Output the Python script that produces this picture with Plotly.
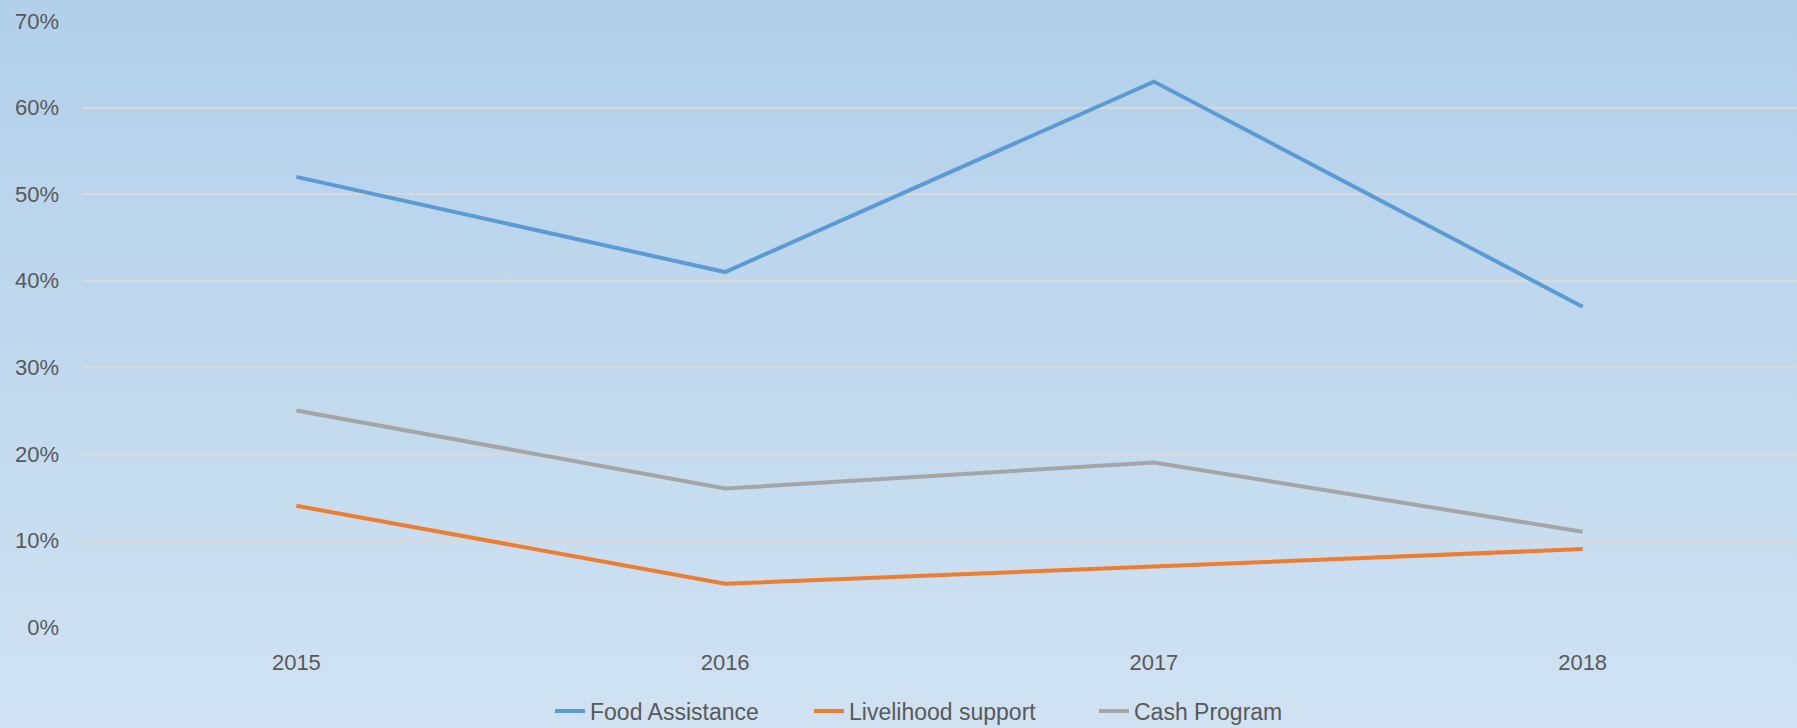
import plotly.graph_objects as go

years = ["2015", "2016", "2017", "2018"]
food_assistance = [0.52, 0.41, 0.63, 0.37]
livelihood_support = [0.14, 0.05, 0.07, 0.09]
cash_program = [0.25, 0.16, 0.19, 0.11]

W, H = 1797, 728
ML, MR, MT, MB = 82, 0, 21, 101
PW, PH = W - ML - MR, H - MT - MB

FONT = "Liberation Sans, Arial, sans-serif"
TICK_COLOR = "#595959"
GRID = "#d9d9d9"

# background gradient as an svg image behind everything
svg = (
    "<svg xmlns='http://www.w3.org/2000/svg' width='100' height='100' preserveAspectRatio='none'>"
    "<defs><linearGradient id='g' x1='0' y1='0' x2='0' y2='1'>"
    "<stop offset='0' stop-color='%23b2d0ea'/><stop offset='1' stop-color='%23d0e2f2'/>"
    "</linearGradient></defs><rect width='100' height='100' fill='url(%23g)'/></svg>"
)
bg_src = "data:image/svg+xml;utf8," + svg

fig = go.Figure()
fig.add_scatter(x=years, y=food_assistance, mode="lines", name="Food Assistance",
                line=dict(color="#5b9bd5", width=4), legend="legend")
fig.add_scatter(x=years, y=livelihood_support, mode="lines", name="Livelihood support",
                line=dict(color="#ed7d31", width=4), legend="legend2")
fig.add_scatter(x=years, y=cash_program, mode="lines", name="Cash Program",
                line=dict(color="#a5a5a5", width=4), legend="legend3")

fig.add_layout_image(
    source=bg_src, xref="paper", yref="paper",
    x=-ML / PW, y=1 + MT / PH, sizex=W / PW, sizey=H / PH,
    xanchor="left", yanchor="top", sizing="stretch", layer="below",
)


def legend_at(px_left):
    # one legend per series so the spacing follows the reference;
    # container refs so the legends don't push the margins
    return dict(
        orientation="h", xref="container", x=px_left / W, xanchor="left",
        yref="container", y=(H - 711) / H, yanchor="middle",
        font=dict(family=FONT, size=23, color=TICK_COLOR),
        bgcolor="rgba(0,0,0,0)", itemwidth=30,
    )


fig.update_layout(
    width=W, height=H,
    margin=dict(l=ML, r=MR, t=MT, b=MB),
    paper_bgcolor="rgba(0,0,0,0)",
    plot_bgcolor="rgba(0,0,0,0)",
    font=dict(family=FONT, size=22, color=TICK_COLOR),
    showlegend=True,
    legend=legend_at(550),
    legend2=legend_at(809),
    legend3=legend_at(1094),
    xaxis=dict(
        type="category", range=[-0.5, 3.5], showgrid=False, zeroline=False,
        showline=False, ticks="", ticklabelstandoff=20,
        tickfont=dict(size=22, color=TICK_COLOR),
    ),
    yaxis=dict(
        range=[0, 0.7], dtick=0.1, tickformat=".0%", showgrid=True,
        gridcolor=GRID, gridwidth=1.5, zeroline=False, showline=False,
        ticks="", ticklabelstandoff=22,
        tickfont=dict(size=22, color=TICK_COLOR),
    ),
)

fig.write_html("out.html", config={"displayModeBar": False},
               post_script="document.body.style.margin='0';")
